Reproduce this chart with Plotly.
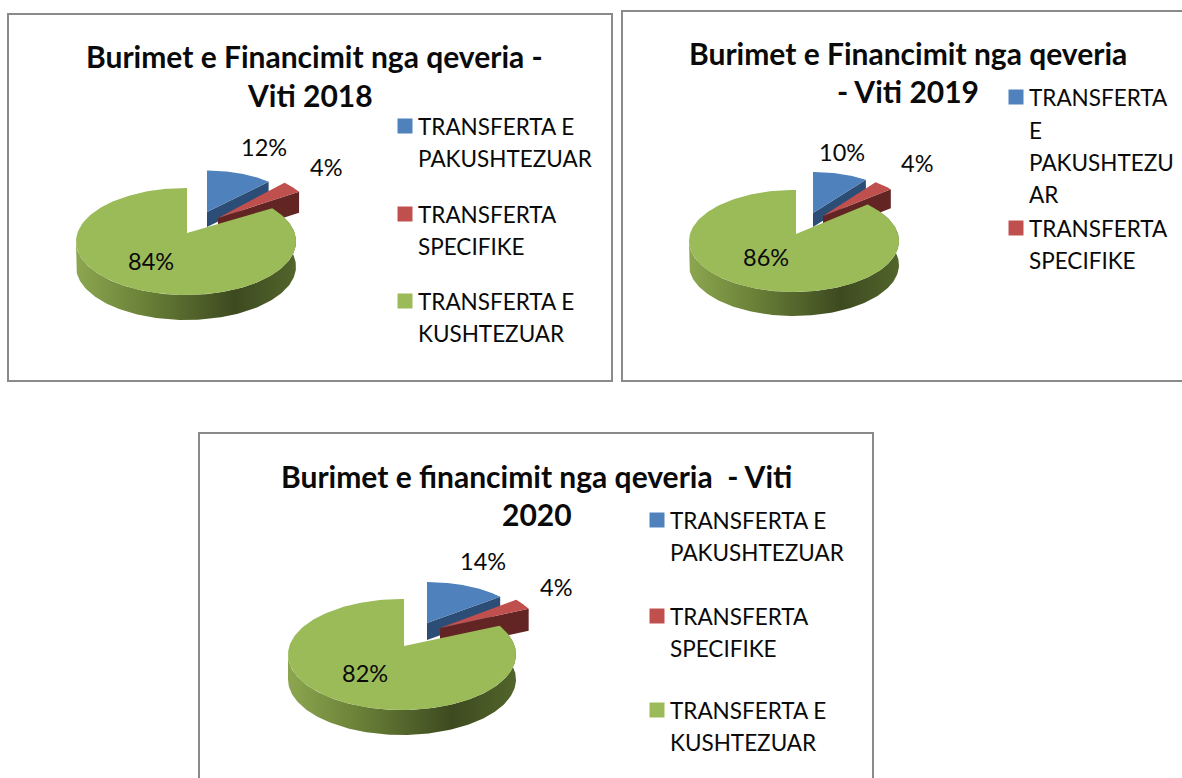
import numpy as np
import plotly.graph_objects as go

categories = ["TRANSFERTA E PAKUSHTEZUAR", "TRANSFERTA SPECIFIKE", "TRANSFERTA E KUSHTEZUAR"]
values_2018 = [12, 4, 84]
values_2019 = [10, 4, 86]
values_2020 = [14, 4, 82]
title_2018 = ["Burimet e Financimit nga qeveria -", "Viti 2018"]
title_2019 = ["Burimet e Financimit nga qeveria", "- Viti 2019"]
title_2020 = ["Burimet e financimit nga qeveria  - Viti", "2020"]
legend_lines_2018 = [["TRANSFERTA E", "PAKUSHTEZUAR"], ["TRANSFERTA", "SPECIFIKE"], ["TRANSFERTA E", "KUSHTEZUAR"]]
legend_lines_2019 = [["TRANSFERTA", "E", "PAKUSHTEZU", "AR"], ["TRANSFERTA", "SPECIFIKE"]]
legend_lines_2020 = legend_lines_2018

TOP = ["#4F81BD", "#C0504D", "#9BBB59"]
SIDE = ["#2C4D75", "#632523"]
GRAD = [[0, "#8CA650"], [0.3, "#6B8238"], [0.72, "#3D4A20"], [1, "#52652B"]]
TEXT = "#0A0A0A"
FONT = "Lato"
TITLE_SIZE = 30
LABEL_SIZE = 22.5
PCT_SIZE = 23.5
BORDER = "#8A8A8A"

charts = [
    dict(values=values_2018, title=title_2018, legend=legend_lines_2018,
         panel=(8, 14, 612, 381), title_pos=[(314, 56), (310, 95)],
         green=dict(c=(186, 241.5), r=(110, 53.5), apex=(187, 233), depth=25),
         blue=dict(a=(207, 212), r=(90, 41.5), depth=15),
         red=dict(a=(218, 218), r=(96, 49), depth=21),
         labels=[(264, 147), (326, 167), (151, 261)],
         leg_x=405, text_x=416, leg_y=[[126, 158], [214, 246], [301, 333]]),
    dict(values=values_2019, title=title_2019, legend=legend_lines_2019,
         panel=(622, 11, 1195, 381), title_pos=[(908, 53), (908, 91)],
         green=dict(c=(794, 241), r=(105, 51), apex=(796, 234), depth=24),
         blue=dict(a=(813, 213), r=(90, 41), depth=14),
         red=dict(a=(823, 216), r=(88, 42), depth=19),
         labels=[(842, 152), (917, 163), (766, 257)],
         leg_x=1016, text_x=1027, leg_y=[[97, 130, 162, 194], [228, 260]]),
    dict(values=values_2020, title=title_2020, legend=legend_lines_2020,
         panel=(199, 433, 873, 790), title_pos=[(536, 476), (537, 514)],
         green=dict(c=(402, 654.5), r=(114, 55.5), apex=(404, 646), depth=25),
         blue=dict(a=(427, 623), r=(95, 41), depth=17),
         red=dict(a=(440, 628), r=(98, 45), depth=22),
         labels=[(483, 561), (556, 587), (365, 673)],
         leg_x=657, text_x=668, leg_y=[[520, 552], [616, 648], [710, 742]]),
]


def arc(c, r, t0, t1, n=90):
    t = np.radians(np.linspace(t0, t1, n))
    return c[0] + r[0] * np.sin(t), c[1] - r[1] * np.cos(t)


fig = go.Figure()


def poly(x, y, color=None, gradient=None):
    kw = dict(fillgradient=gradient) if gradient else dict(fillcolor=color)
    fig.add_trace(go.Scatter(x=list(x), y=list(y), mode="lines", fill="toself",
                             line=dict(width=0), hoverinfo="skip", showlegend=False, **kw))


def exploded(spec, t0, t1, top, side):
    a, r, d = spec["a"], spec["r"], spec["depth"]
    x, y = arc(a, r, t0, t1)
    # cut face along the slice's far edge, then the top face
    ex, ey = x[-1], y[-1]
    poly([a[0], ex, ex, a[0]], [a[1], ey, ey + d, a[1] + d], side)
    poly([a[0], *x], [a[1], *y], top)


for ch in charts:
    v = ch["values"]
    b_end = 3.6 * v[0]
    r_end = b_end + 3.6 * v[1]
    exploded(ch["blue"], 0, b_end, TOP[0], SIDE[0])
    exploded(ch["red"], b_end, r_end, TOP[1], SIDE[1])
    g = ch["green"]
    start = r_end - 6
    # outer wall of the large slice, visible on the near half of the ellipse
    x, y = arc(g["c"], g["r"], start, 270, 160)
    poly(np.r_[x, x[::-1]], np.r_[y, y[::-1] + g["depth"]],
         gradient=dict(type="horizontal", colorscale=GRAD,
                       start=g["c"][0] - g["r"][0], stop=g["c"][0] + g["r"][0]))
    # top face: its closing edge runs straight up from the apex
    end = 360 + np.degrees(np.arcsin((g["apex"][0] - g["c"][0]) / g["r"][0]))
    x, y = arc(g["c"], g["r"], start, end, 200)
    poly([g["apex"][0], *x, g["apex"][0]], [g["apex"][1], *y, g["apex"][1]], TOP[2])

    # legend swatches and wrapped labels
    for i, lines in enumerate(ch["legend"]):
        fig.add_trace(go.Scatter(x=[ch["leg_x"]], y=[ch["leg_y"][i][0]], mode="markers",
                                 marker=dict(symbol="square", size=15, color=TOP[i], line=dict(width=0)),
                                 name=categories[i], hoverinfo="skip", showlegend=False))
        for line, yy in zip(lines, ch["leg_y"][i]):
            fig.add_annotation(x=ch["text_x"], y=yy, text=line, showarrow=False, xanchor="left",
                               yanchor="middle", font=dict(family=FONT, size=LABEL_SIZE, color=TEXT))

    # percentages
    for val, (lx, ly) in zip(v, ch["labels"]):
        fig.add_annotation(x=lx, y=ly, text=f"{val}%", showarrow=False,
                           font=dict(family=FONT, size=PCT_SIZE, color=TEXT))

    # titles
    for line, (tx, ty) in zip(ch["title"], ch["title_pos"]):
        fig.add_annotation(x=tx, y=ty, text=f"<b>{line}</b>", showarrow=False,
                           font=dict(family=FONT, size=TITLE_SIZE, color=TEXT))

    x0, y0, x1, y1 = ch["panel"]
    fig.add_shape(type="rect", x0=x0, y0=y0, x1=x1, y1=y1, layer="below",
                  line=dict(color=BORDER, width=2), fillcolor="white")

fig.update_layout(
    width=1182, height=778, margin=dict(l=0, r=0, t=0, b=0), showlegend=False,
    paper_bgcolor="white", plot_bgcolor="white",
    xaxis=dict(range=[0, 1182], visible=False, fixedrange=True),
    yaxis=dict(range=[778, 0], visible=False, fixedrange=True),
)
fig.write_html("out.html", config=dict(displayModeBar=False),
               post_script="document.body.style.margin='0';document.body.style.overflow='hidden';")
